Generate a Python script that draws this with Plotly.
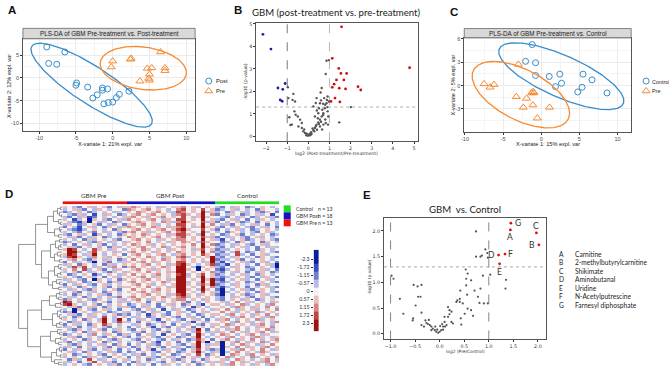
import numpy as np
import plotly.graph_objects as go

W, H = 669, 369
def X(px): return px / W
def Y(py): return 1 - py / H

# ---------------- Panel A : PLS-DA Pre vs Post ----------------
a_post_x = [-8.96,-8.70,-7.60,-6.50,-4.90,-5.00,-3.40,-2.70,-2.10,-1.40,-1.40,-0.70,-1.20,-0.60,0.00,0.50,0.90,2.20]
a_post_y = [6.80,3.20,3.00,5.70,-1.10,-1.60,-2.00,-4.40,-3.70,-2.20,-2.70,-2.40,-5.70,-5.40,-5.30,-4.30,-3.60,-2.90]
a_pre_x = [0.00,-0.20,2.50,2.40,3.70,4.70,5.30,5.00,4.90,5.00,6.50,7.10,7.10]
a_pre_y = [3.70,2.40,4.30,4.10,-0.70,2.10,2.20,0.80,-0.10,-0.50,5.70,2.20,1.60]

# ---------------- Panel B : volcano post vs pre ----------------
b_up_x = [1.57,1.13,1.44,1.54,1.81,1.68,1.33,1.22,1.13,1.46,1.76,2.35,2.48,1.26,1.07,1.49,4.79]
b_up_y = [4.87,3.47,3.02,2.80,2.80,2.51,2.51,2.32,2.18,2.14,2.11,2.21,2.06,1.70,1.55,1.53,3.05]
b_down_x = [-2.15,-1.77,-1.44,-1.21,-1.10,-1.33,-1.24]
b_down_y = [4.54,3.88,2.15,2.09,2.35,1.62,1.56]
b_ns_x = [-0.97,-0.94,-0.71,-0.75,-0.63,-0.66,-0.60,-0.50,-0.39,-0.31,-0.78,-0.47,-0.31,-0.24,-0.16,-0.08,0.00,0.08,-0.03,0.05,
          0.13,0.24,0.31,0.39,0.47,0.55,0.63,0.71,0.78,0.24,0.39,0.55,0.63,0.82,0.86,0.97,0.75,0.86,0.91,0.94,
          0.82,0.71,0.55,0.41,0.28,0.47,0.31,0.66,1.46,2.01,0.91,0.97,-0.10,0.10,0.15,-0.20,0.20,0.35,0.50,0.60,
          0.45,0.50,0.60,0.70,0.80,0.90,-0.85,-0.90,0.40,0.35,0.58,0.70,0.88,0.93,0.80,0.65]
b_ns_y = [2.18,1.70,1.89,1.62,1.55,1.11,0.96,0.88,0.74,0.59,0.52,0.44,0.37,0.22,0.15,0.12,0.07,0.12,0.03,0.04,
          0.18,0.27,0.37,0.52,0.62,0.74,0.88,1.03,1.25,1.33,1.70,1.47,2.15,2.77,3.36,3.39,1.70,1.47,1.11,0.88,
          0.59,0.52,0.44,0.29,0.22,1.03,0.88,1.18,0.62,1.30,1.77,1.55,0.05,0.06,0.10,0.30,0.35,0.45,0.55,0.65,
          0.80,1.25,1.60,0.95,1.40,1.30,0.50,0.85,1.15,1.48,1.95,1.45,1.62,0.52,0.75,0.30]

# ---------------- Panel C : PLS-DA Pre vs Control ----------------
c_ctrl_x = [-1.18,-2.05,-0.74,-0.74,1.05,2.44,2.66,1.87,4.79,5.36,5.49,6.67,8.63]
c_ctrl_y = [5.28,3.12,2.94,1.30,1.17,1.47,0.30,-0.13,-0.82,-0.22,1.47,0.74,-0.95]
c_pre_x = [-3.00,-7.49,-6.71,-6.19,-3.27,-1.92,-1.26,-1.05,-0.96,-1.09,-2.35,-0.52,1.09]
c_pre_y = [2.73,0.22,-0.22,0.13,-1.43,-1.65,-0.95,-0.78,-0.95,-2.51,-2.81,-4.20,-2.81]

# ---------------- Panel D : heatmap ----------------
group_names = ["GBM Pre", "GBM Post", "Control"]
group_n = [13, 18, 13]
level_chars = "Bbl-.+rRD"
level_vals = [-2.3, -1.72, -1.15, -0.57, 0, 0.57, 1.15, 1.72, 2.3]
level_text = ["-2.3", "-1.72", "-1.15", "-0.57", "0", "0.57", "1.15", "1.72", "2.3"]
heat_rows = [
 "+.-l.+-.+l.-+ +r+.+.-+.++r.+-.+. -l.-+.l-.+.-.",
 "-.+-l.-+.-..l r+.+r.+.-.rR.+.R.+ l-.+-.-.l+..-",
 "l-.+.l-.+.-+. +.r+.+r.+-Rr.+.D-+ -.l-.+-.-l+.l",
 ".-l+-.b.-+.l- .+r.+r.+.-rR+.+D.r l.-+.l-.+-.b.",
 "-l.-+bl.+.-.+ +r.+-.+r.+.R.-+D+. .-l.-+.l-.+-l",
 "+.b-.B+.-l.+- r.+.+r.-+.RR.+.D.+ -l.+-.l.-+.-.",
 ".-lb+B.-+.l-. .+r+.+.r+-rD+..R-+ l.-.+l-.l.+.-",
 "-+.l-.+l.-+.l +.+r.+-.+.RR.+.D.r .-+l.-.+-.l.-",
 "l.-b.+-.l+.-+ r+.+.r+.-+rR.-+D+. -l.-+.-l.+-.l",
 ".-lb-.+.-.l+. .+r.+.+r.+RD+..R.+ l.-.+-.l-.+.-",
 "+.-l.+l.-+.-l +r.+-+.+r.rR.+.D-. -.l+.-.-l.+-.",
 "-l.+-.b+.-.l+ .+.r+.+.-+RR+.-D.+ .l-.+l.-.+.l-",
 ".-+l.-+.l-.+. r+.+.+r.+.rR.+.R+- l.-+.-l.+-.-.",
 "+.-.l+-.+.-l. .+r.+.-+.+rr.+.D.+ -b.-.+l-.+.-l",
 "l-.+.-l+.-+.- +.+.r.+.-+.r+.-R+. .l-.l+.-.l+.-",
 "-.l.+-.+l.-.+ .r+.+-.+.+.+.r.D.r l-.-+.-l.+-..",
 ".+-l.+.-.l+-. +.+r.+.r-.+r.+.D+. -l.-.+-.l.-+-",
 "+DR.-.R+.-+.- .+.r+.+.-+.+.-+R.+ l--.+.-.l+.-.",
 ".DD+.-R.+.-+. +r.+.-+.+.r+.+.D.r -l.-R.l-.+.-l",
 "+DR.-+D.-.+.l .+r.+.+r.-+r.+.R+. l--.R-.l.+-..",
 "-RD+.-r.+-.+. +.+.r+.-+.rR-.+.+D -l.-+.-.l+.-l",
 ".+r.-l+.-+.l- .r.+.+.r+.+r.+.+.D l--.+l.-.+.-.",
 "l.-+.-B.+l.-+ +.+r.-+.+.RR.+.-+D -b.-.+-l.+-.l",
 "-+.l+.-.l+-.+ .+.+r.+.-+RD+.-.+R l-b.+.-.l.+-B",
 ".-R+R.-+.-r.l +r.+.+.r+.DD.-B+.+ -l.-+.l-.+.-B",
 "+.r.R-.+l.-+. .+r.+-+.+.DD+.B.+. lb-.+.-l.+-.l",
 "-.+l.-+.-l+.- +.+.r.+.-+DD.+.+.r -l.+-.l.-+.l-",
 ".l-.+.b-.+.-+ .r.+.+r.+.RD-.+R.+ l-.-.+-.l+.-.",
 "+.-l.+-.l.+-. +.+r.-+.+.DD+.-D.+ -l-.+.-l.-+.l",
 "-+.-l.B+.-.l+ .+.+r.+.-+DD.+.D+D lb.-.+-.l.+-.",
 ".-+.l-.+.l+-. +r.+.+.r+.DD-.+D.D -l-.+.l-.+.-l",
 "l.-+.-l.+-.+. .+r.+-.+.+DD+.-R+D l-.-+.-.l+-..",
 "-+.l+.-.+l.-+ +.+.r.+.-+DD.+.D.r -b-.+.l.-.+-l",
 ".-+.-l+.-.+l. .r.+.+r.+.DD+.-D+. lB.-.+-l.+.-.",
 "+.-l.+-.l+.-. +.+r.-+.+.DD.+.R.+ -B-.+.-.l+.-l",
 "-.l+.-.+-l.+. .+.+r.+.-+RD+.-+.+ lB.-.+l-.+-..",
 ".+-.l+.-.+-l. +r.+.+.r+.rR-.+.+. -l.-+.-l.+.-l",
 "l-.+.-l+.-.+- .+r.-+.+.+rr.+.-+. -l.+.-+.l-.+.",
 "DR.-+.-.+l.-+ -.+.l.+-.+.+l.-.+. .+-.r.+-.+.-+",
 "RD+.-.+l.-.+. l-.+-.l.+-.l+.-b.+ +.-+.r-.+.-r.",
 ".-+l.+-.l+.-+ -l.-+.l-.+.-.b+.-. .+.-r+.-+.r.-",
 "-.B+.-l.+-.l. .-l.+-.b.-+.l-.+.- +.r.-+.+-.+.r",
 "l-B.+.-+.l-.+ -.+l.-+.l.+-.l.+-. .r.+-.+.r-.+.",
 ".+-l.-+.-.+l- l.-.b+.-l.+.-.l-.+ +.-r.+.-+.r.-",
 "-.l+.+-.R.-.+ .-+.l-.+.-l.+-.l.- .+.-+r.-.+-r.",
 "+.-.l+.-D.-D. l.-+.-b.+.-l.+-.l. -+r.-.+.r-.+.",
 ".l-+.-.+D.-R+ -.l.+.-l.-+.-b.+-. .+.-r.+-.+.-r",
 "l.+-.l+.R+.-. .-+.l-.+.l.-+.-l.+ +.r-.+.-+r.-.",
 "-+.l.-+.-l.+. l.-.+b.-l.+-.l.+.- .-+.r.+.-+.r.",
 ".-l+.-.+l.-+. -l.+.-l.+.-.+-D.l. +.-+r.-.+.r-.",
 "+.-.l+-.+.l-. .-+l.-.+l.-+.-R.-+ -+.r.+-.+r.-+",
 "l-.+.-r.-+.l+ -.l.+-.b.+.-l.D+.- .r+.-.+r.-+..",
 ".+-l.+.-l.+.- l.-+.-l.+.l-.+D.-. +.-r.+.-r+.-+",
 "-.+.l-.+.-l+. .-l.+.-l.-+.l-R+.l .+r.-+.r.-.+r",
 "+l.-.+-.l+.-. -.+l.-b.+.l.-.D+B. -B.+r.-+.r-.+",
 ".-l+.-.+-.l+. l.-.+-l.+.-l.+D.-+ +B.-.r+.-+.r.",
 "-+.l.+-.+l.-+ .l+.-.+l.-+.l-D.+. .B+.r.-+.-r.+",
 "l.-+.-l.-+.l. -.l.+b.-+.-l.+R.-l -B.+-r.+.r.-+",
 ".+-.l+.-.+-l. l-.+.-l.+.l-.-D+.- +B-.r.+.-r+..",
 "+.l-.+.-l.+.- .-+l.-.+.l-.+.R.l+ .B.r+.-r.+.-+",
 "-.+.l-+.-l.+. l.-.+-l.-+.l.+-.-. +.r-.+.r-.+.r",
 ".l+-.R.-+.-.+ -.+.l-.+.-l+.-.l+. .+-.r+.-.+r.-",
 "+-.l.+R.-+l.- .l-.+.-l.+.-.l+.-+ -+.r.-+.+-r.+",
 "-.+.-l.+.-+l. l.+-.l.-+.-.+.l-.+ .+-r.+.-+.-r.",
]
# dendrogram: node = [merge height, left, right], 0 = leaf
dendro_tree = [44,
  [27,
    [15, [9, [5, [2,0,0], [3,0,[1,0,0]]], [4,0,[2,0,0]]], [8, [3,0,[2,0,0]], [4,0,0]]],
    [21,
      [12, [7, [3,0,0], [4,[2,0,0],0]], [8, [5,0,[2,0,0]], [3,0,0]]],
      [14, [8, [4,0,[2,0,0]], [5,[2,0,0],0]], [10, [6,0,[3,0,0]], [4,0,0]]]]],
  [35,
    [21,
      [13, [6,[3,0,0],[4,0,0]], [7,[2,0,0],0]],
      [10, [5,[2,0,0],[3,0,[1,0,0]]], [6,[3,0,0],0]]],
    [22,
      [12, [5,0,[3,0,0]], [7,[2,0,0],[4,0,0]]],
      [11, [6,[3,0,[1,0,0]],[2,0,0]], [8,0,[4,0,0]]]]]]

# ---------------- Panel E : volcano GBM vs Control ----------------
e_sig_labels = ["A", "B", "C", "D", "E", "F", "G"]
e_sig_names = ["Carnitine", "2-methylbutyrylcarnitine", "Shikimate", "Aminobutanal",
               "Uridine", "N-Acetylputrescine", "Farnesyl diphosphate"]
e_sig_x = [1.44, 2.02, 1.97, 1.20, 1.22, 1.33, 1.45]
e_sig_y = [2.02, 1.73, 1.96, 1.53, 1.36, 1.55, 2.15]
e_ns_x = [0.74,0.74,0.83,0.86,0.93,0.97,0.98,1.03,1.35,1.34,-0.98,-0.94,-0.53,-0.45,-0.37,-0.44,-0.39,-0.81,-0.49,-0.37,
          -0.74,-0.54,-0.55,-0.29,-0.22,0.54,0.56,0.64,0.53,0.57,0.42,0.71,0.78,0.88,0.83,0.98,0.90,0.81,0.41,0.36,
          0.34,0.47,0.57,0.64,0.17,0.20,0.51,0.68,0.43,0.24,0.27,0.44,0.10,0.14,0.07,0.03,0.00,-0.03,-0.07,-0.10,
          -0.14,-0.17,-0.20,-0.24,-0.27,-0.32,-0.37,-0.17,-0.05,0.07,0.11,0.17,0.20,0.24,0.05,0.01,-0.09,0.10,0.54,0.41]
e_ns_y = [1.99,1.50,1.50,1.52,1.64,1.57,1.48,1.15,1.05,0.88,1.13,1.07,0.95,0.92,0.95,0.72,0.72,0.68,0.55,0.41,
          0.39,0.30,0.26,0.26,0.27,0.94,0.76,1.04,1.25,1.17,0.84,0.84,0.72,1.13,0.88,0.59,0.59,0.60,0.68,0.65,
          0.62,0.59,0.49,0.46,0.52,0.46,0.39,0.35,0.30,0.23,0.20,0.18,0.23,0.17,0.14,0.07,0.04,0.02,0.04,0.07,
          0.10,0.14,0.17,0.19,0.21,0.14,0.17,0.07,0.08,0.08,0.14,0.33,0.38,0.43,0.19,0.15,0.14,0.33,1.07,0.62]

fc_cut = 1.0
p_cut = 0.05

# ---------------- style ----------------
BLUE = "#388ECC"
ORANGE = "#F68B33"
GGF = "Liberation Sans"
MPF = "DejaVu Sans"
TF = "Lato"
heat_colors = ["#0a1d9c", "#3a4cbd", "#6f7fd0", "#b4bde6", "#f3f3f3", "#eabdbd", "#d58787", "#c04545", "#9e1212"]
group_colors = ["#ee1111", "#1212c8", "#22dd22"]

def conf_ellipse(x, y, chi2=5.991, n=240):
    x = np.asarray(x, float); y = np.asarray(y, float)
    vals, vecs = np.linalg.eigh(np.cov(x, y))
    t = np.linspace(0, 2 * np.pi, n)
    pts = vecs @ (np.sqrt(vals * chi2)[:, None] * np.vstack([np.cos(t), np.sin(t)]))
    return x.mean() + pts[0], y.mean() + pts[1]

fig = go.Figure()

# ----- A -----
for xs, ys, col, sym in [(a_post_x, a_post_y, BLUE, "circle-open"), (a_pre_x, a_pre_y, ORANGE, "triangle-up-open")]:
    ex, ey = conf_ellipse(xs, ys)
    fig.add_trace(go.Scatter(x=ex, y=ey, mode="lines", line=dict(color=col, width=1.3), xaxis="x", yaxis="y"))
    fig.add_trace(go.Scatter(x=xs, y=ys, mode="markers", xaxis="x", yaxis="y",
                             marker=dict(symbol=sym, size=6 if sym.startswith("c") else 7, color=col, line=dict(width=1))))
# ----- C -----
for xs, ys, col, sym in [(c_ctrl_x, c_ctrl_y, BLUE, "circle-open"), (c_pre_x, c_pre_y, ORANGE, "triangle-up-open")]:
    ex, ey = conf_ellipse(xs, ys)
    fig.add_trace(go.Scatter(x=ex, y=ey, mode="lines", line=dict(color=col, width=1.3), xaxis="x3", yaxis="y3"))
    fig.add_trace(go.Scatter(x=xs, y=ys, mode="markers", xaxis="x3", yaxis="y3",
                             marker=dict(symbol=sym, size=6 if sym.startswith("c") else 7, color=col, line=dict(width=1))))

# ----- B -----
fig.add_trace(go.Scatter(x=b_ns_x, y=b_ns_y, mode="markers", marker=dict(size=2.4, color="#555"), xaxis="x2", yaxis="y2"))
fig.add_trace(go.Scatter(x=b_down_x, y=b_down_y, mode="markers", marker=dict(size=2.8, color="#1a1ab0"), xaxis="x2", yaxis="y2"))
fig.add_trace(go.Scatter(x=b_up_x, y=b_up_y, mode="markers", marker=dict(size=2.8, color="#cc1010"), xaxis="x2", yaxis="y2"))

# ----- E -----
fig.add_trace(go.Scatter(x=e_ns_x, y=e_ns_y, mode="markers", marker=dict(size=2.2, color="#555"), xaxis="x7", yaxis="y7"))
fig.add_trace(go.Scatter(x=e_sig_x, y=e_sig_y, mode="markers", marker=dict(size=2.8, color="#dd1010"), xaxis="x7", yaxis="y7"))

# ----- D heatmap -----
char_val = dict(zip(level_chars, level_vals))
Z = [[char_val[c] for c in r.replace(" ", "")] for r in heat_rows]
nrow, ncol = len(Z), len(Z[0])
heat_cs = [[i / (len(heat_colors) - 1), c] for i, c in enumerate(heat_colors)]
fig.add_trace(go.Heatmap(z=Z, x=list(range(ncol)), y=list(range(nrow)), colorscale=heat_cs,
                         zmin=level_vals[0], zmax=level_vals[-1], showscale=False, xaxis="x4", yaxis="y4"))
gcode = []
for gi, n in enumerate(group_n):
    gcode += [gi] * n
fig.add_trace(go.Heatmap(z=[gcode], x=list(range(ncol)), y=[0], showscale=False, zmin=0, zmax=2,
                         colorscale=[[0, group_colors[0]], [0.5, group_colors[1]], [1, group_colors[2]]],
                         xaxis="x4", yaxis="y8"))
# dendrogram
dx, dy = [], []
def walk(node, counter):
    if node == 0:
        i = counter[0]; counter[0] += 1
        return float(i), 0.0
    h, l, r = node
    yl, hl = walk(l, counter)
    yr, hr = walk(r, counter)
    dx.extend([hl, h, h, hr, None]); dy.extend([yl, yl, yr, yr, None])
    return (yl + yr) / 2, h
walk(dendro_tree, [0])
fig.add_trace(go.Scatter(x=dx, y=dy, mode="lines", line=dict(color="#7a7a7a", width=0.8), xaxis="x5", yaxis="y4"))
# colour key
edges = [level_vals[0] - 0.72] + [(a + b) / 2 for a, b in zip(level_vals[:-1], level_vals[1:])] + [level_vals[-1] + 0.58]
fig.add_trace(go.Heatmap(z=[[v] for v in level_vals], x=[0], y=edges, colorscale=heat_cs,
                         zmin=level_vals[0], zmax=level_vals[-1], showscale=False, xaxis="x6", yaxis="y6"))

# ----- overlay (legend keys) -----
fig.add_trace(go.Scatter(x=[206.7, 646], y=[79.5, 79.5], mode="markers", xaxis="x9", yaxis="y9",
                         marker=dict(symbol="circle-open", size=6, color=BLUE, line=dict(width=1))))
fig.add_trace(go.Scatter(x=[206.7, 646], y=[89.5, 89.5], mode="markers", xaxis="x9", yaxis="y9",
                         marker=dict(symbol="triangle-up-open", size=7, color=ORANGE, line=dict(width=1))))
key_order = [2, 1, 0]
fig.add_trace(go.Scatter(x=[285.5] * 3, y=[208, 215, 222], mode="markers", xaxis="x9", yaxis="y9",
                         marker=dict(symbol="square", size=7, color=[group_colors[k] for k in key_order], line=dict(width=0))))

# ---------------- axes ----------------
def gg_axis(dom, rng, tv, mv, anchor):
    return dict(domain=dom, range=rng, tickvals=tv, ticktext=[str(v) for v in tv], anchor=anchor,
                showgrid=True, gridcolor="#EBEBEB", gridwidth=0.7, zeroline=False,
                minor=dict(tickvals=mv, showgrid=True, gridcolor="#F4F4F4", gridwidth=0.4),
                showline=True, mirror=True, linecolor="#555", linewidth=0.7,
                ticks="outside", ticklen=2, tickwidth=0.6, tickcolor="#333",
                tickfont=dict(family=GGF, size=5.5, color="#4D4D4D"), fixedrange=True)

def mp_axis(dom, rng, tv, tt, anchor):
    return dict(domain=dom, range=rng, tickvals=tv, ticktext=tt, anchor=anchor, showgrid=False, zeroline=False,
                showline=True, mirror=True, linecolor="#555", linewidth=1.0,
                ticks="outside", ticklen=2, tickwidth=0.6, tickcolor="#333",
                tickfont=dict(family=MPF, size=4.8, color="#333"), fixedrange=True)

hid = dict(visible=False, fixedrange=True)
layout_axes = dict(
    xaxis=gg_axis([X(20), X(193)], [-12.2, 11.2], [-10, -5, 0, 5, 10], [-7.5, -2.5, 2.5, 7.5], "y"),
    yaxis=gg_axis([Y(129.5), Y(37)], [-11.6, 8.6], [-10, -5, 0, 5], [-7.5, -2.5, 2.5, 7.5], "x"),
    xaxis3=gg_axis([X(463.3), X(631)], [-10.1, 11.8], [-10, -5, 0, 5, 10], [-7.5, -2.5, 2.5, 7.5], "y3"),
    yaxis3=gg_axis([Y(130.5), Y(36)], [-5.95, 6.15], [-3, 0, 3, 6], [-4.5, -1.5, 1.5, 4.5], "x3"),
    xaxis2=mp_axis([X(254.3), X(416.7)], [-2.47, 5.18], list(range(-2, 6)), ["−2", "−1", "0", "1", "2", "3", "4", "5"], "y2"),
    yaxis2=mp_axis([Y(140), Y(20.7)], [-0.22, 5.06], list(range(0, 6)), [str(v) for v in range(6)], "x2"),
    xaxis7=mp_axis([X(382.7), X(545)], [-1.134, 2.156], [-1, -0.5, 0, 0.5, 1, 1.5, 2],
                   ["−1.0", "−0.5", "0.0", "0.5", "1.0", "1.5", "2.0"], "y7"),
    yaxis7=mp_axis([Y(339.3), Y(216.7)], [-0.11, 2.26], [0, 0.5, 1, 1.5, 2], ["0.0", "0.5", "1.0", "1.5", "2.0"], "x7"),
    xaxis4=dict(hid, domain=[X(59.7), X(277.3)], range=[-0.5, ncol - 0.5], anchor="y4"),
    yaxis4=dict(hid, domain=[Y(366), Y(205)], range=[nrow - 0.5, -0.5], anchor="x4"),
    xaxis5=dict(hid, domain=[X(13), X(59.7)], range=[46.7, 0], anchor="y4"),
    yaxis8=dict(hid, domain=[Y(203.5), Y(200.3)], range=[-0.5, 0.5], anchor="x4"),
    xaxis6=dict(hid, domain=[X(312), X(317.5)], range=[-0.5, 0.5], anchor="y6"),
    yaxis6=dict(domain=[Y(331), Y(249)], range=[edges[-1], edges[0]], anchor="x6", side="left",
                tickvals=level_vals, ticktext=level_text, ticks="outside", ticklen=2, tickwidth=0.6,
                tickcolor="#333", showline=False, showgrid=False, zeroline=False,
                tickfont=dict(family=TF, size=5.2, color="#333"), fixedrange=True),
    xaxis9=dict(hid, domain=[0, 1], range=[0, W], anchor="y9"),
    yaxis9=dict(hid, domain=[0, 1], range=[H, 0], anchor="x9"),
)

# ---------------- shapes ----------------
shapes = []
for x0, x1, y0, y1 in [(20, 193, 26.5, 37), (463.3, 631, 26.7, 36)]:
    shapes.append(dict(type="rect", xref="paper", yref="paper", x0=X(x0), x1=X(x1), y0=Y(y1), y1=Y(y0),
                       fillcolor="#D9D9D9", line=dict(color="#555", width=0.7), layer="above"))
thr = -np.log10(p_cut)
for ax, cols in [("2", ["#555", "#bbbbbb"]), ("7", ["#666", "#666"])]:
    for v, c in zip([-fc_cut, fc_cut], cols):
        shapes.append(dict(type="line", xref="x" + ax, yref="y" + ax + " domain", x0=v, x1=v, y0=0, y1=1,
                           line=dict(color=c, width=1.1 if c == "#bbbbbb" else 0.8, dash="dash"), layer="below"))
    shapes.append(dict(type="line", xref="x" + ax + " domain", yref="y" + ax, x0=0, x1=1, y0=thr, y1=thr,
                       line=dict(color="#888", width=0.7, dash="dot"), layer="below"))

# ---------------- annotations ----------------
ann = []
def A(text, px, py, size, family=TF, color="#222", xanchor="center", yanchor="middle", angle=0):
    ann.append(dict(text=text, x=X(px), y=Y(py), xref="paper", yref="paper",
                    showarrow=False, xanchor=xanchor, yanchor=yanchor, textangle=angle,
                    font=dict(family=family, size=size, color=color)))

for t, px, py in [("A", 9, 8), ("B", 236.5, 8.5), ("C", 453, 10.5), ("D", 6.5, 193.5), ("E", 365.5, 194)]:
    A("<b>" + t + "</b>", px, py, 11.5, family="Liberation Sans", color="#111")

A("PLS-DA of GBM Pre-treatment vs. Post-treatment", 106.5, 31.8, 6.3, family=GGF, color="#1A1A1A")
A("PLS-DA of GBM Pre-treatment vs. Control", 547.2, 31.4, 6.3, family=GGF, color="#1A1A1A")
A("X-variate 1: 21% expl. var", 107, 142.5, 5.6, family=GGF)
A("X-variate 2: 12% expl. var", 5.5, 84, 5.6, family=GGF, angle=-90)
A("X-variate 1: 15% expl. var", 547, 143, 5.6, family=GGF)
A("X-variate 2: 5% expl. var", 452, 83, 5.6, family=GGF, angle=-90)
A("Post", 211.5, 79.5, 5.8, family=GGF, xanchor="left")
A("Pre", 211.5, 89.5, 5.8, family=GGF, xanchor="left")
A("Control", 650, 80, 5.4, family=GGF, xanchor="left")
A("Pre", 650, 89.5, 5.4, family=GGF, xanchor="left")

A("GBM (post-treatment vs. pre-treatment)", 335.5, 11, 9.6, family=TF, color="#222")
A("log2 (Post-treatment/Pre-treatment)", 335.5, 152, 4.6, family=MPF, color="#333")
A("-log10 (p-value)", 243.5, 80, 4.6, family=MPF, color="#333", angle=-90)

A("GBM  vs. Control", 464, 208.3, 9.6, family=TF, color="#222")
A("log2 (Pre/Control)", 465, 351.7, 4.4, family=MPF, color="#333")
A("-log10 (p-value)", 367.7, 277, 4.4, family=MPF, color="#333", angle=-90)

e_label_shift = {"A": (0, -7), "B": (-7, 0), "C": (0, 7), "D": (-7, 0), "E": (0, -8), "F": (6, 0), "G": (7, 0)}
for lab, xv, yv in zip(e_sig_labels, e_sig_x, e_sig_y):
    sx, sy = e_label_shift[lab]
    ann.append(dict(text=lab, x=xv, y=yv, xref="x7", yref="y7", showarrow=False, xshift=sx, yshift=sy,
                    font=dict(family=TF, size=8.5, color="#333")))
for i, (lab, name) in enumerate(zip(e_sig_labels, e_sig_names)):
    A(lab, 556, 253.3 + 8.55 * i, 6.6, family=TF, color="#222", xanchor="left")
    A(name, 573, 253.3 + 8.55 * i, 6.6, family=TF, color="#222", xanchor="left")

# heatmap column labels
start = 0
for name, n in zip(group_names, group_n):
    ann.append(dict(text=name, x=start + (n - 1) / 2, y=Y(195), xref="x4", yref="paper", showarrow=False,
                    font=dict(family=TF, size=6.3, color="#333")))
    start += n
for k, py in zip(key_order, [208, 215, 222]):
    A(group_names[k], 292.5, py, 5.2, family=TF, color="#333", xanchor="left")
    A("n = %d" % group_n[k], 314.5, py, 5.2, family=TF, color="#333", xanchor="left")

fig.update_layout(width=W, height=H, margin=dict(l=0, r=0, t=0, b=0), showlegend=False,
                  paper_bgcolor="white", plot_bgcolor="rgba(0,0,0,0)",
                  shapes=shapes, annotations=ann, **layout_axes)
fig.write_html("out.html", config={"displayModeBar": False},
               post_script="document.body.style.margin='0';document.body.style.padding='0';")
